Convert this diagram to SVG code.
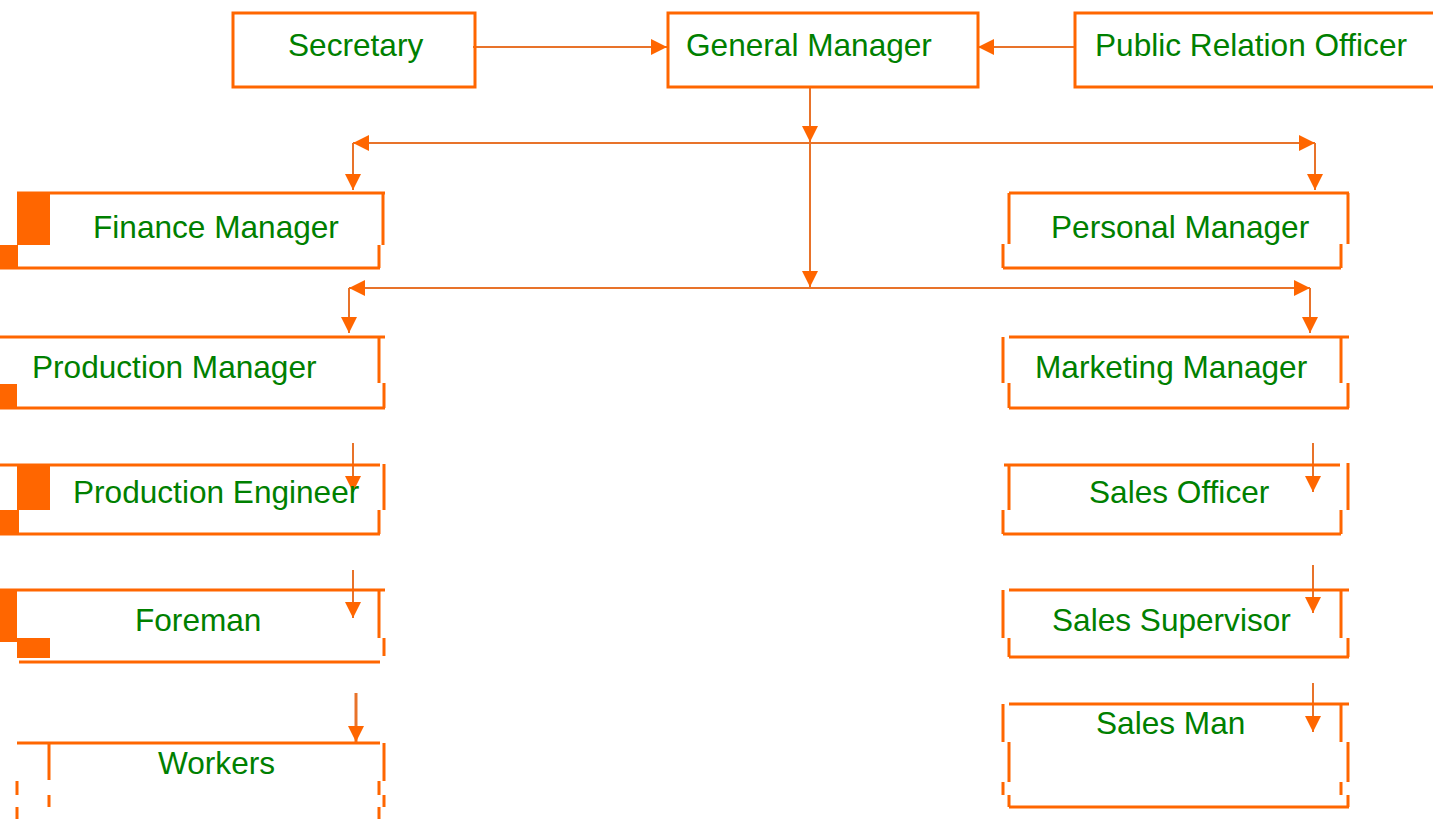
<svg xmlns="http://www.w3.org/2000/svg" width="1433" height="819" viewBox="0 0 1433 819">
<style>
.box{fill:none;stroke:#FF6600;stroke-width:3}
.fill{fill:#FF6600}
.lbl{font-family:"Liberation Sans",Arial,sans-serif;font-size:31.6px;fill:#008000}
.con{fill:none;stroke:#E8732A;stroke-width:2}
.con3{fill:none;stroke:#E8732A;stroke-width:3}
</style>
<defs>
<marker id="ah" markerUnits="userSpaceOnUse" markerWidth="16" markerHeight="16" refX="16" refY="8" orient="auto-start-reverse">
<path d="M0,0 L16,8 L0,16 z" fill="#FF6600"/>
</marker>
</defs>
<rect width="1433" height="819" fill="#FFFFFF"/>

<g id="connectors">
<path class="con" d="M473,47 H667" marker-end="url(#ah)"/>
<path class="con" d="M1075,47 H978" marker-end="url(#ah)"/>
<path class="con" d="M810,87 V142" marker-end="url(#ah)"/>
<path class="con" d="M810,143 V287" marker-end="url(#ah)"/>
<path class="con" d="M353,143 H1315" marker-start="url(#ah)" marker-end="url(#ah)"/>
<path class="con" d="M353,143 V190" marker-end="url(#ah)"/>
<path class="con" d="M1315,143 V190" marker-end="url(#ah)"/>
<path class="con" d="M349,288 H1310" marker-start="url(#ah)" marker-end="url(#ah)"/>
<path class="con" d="M349,288 V333" marker-end="url(#ah)"/>
<path class="con" d="M1310,288 V333" marker-end="url(#ah)"/>
<path class="con" d="M353,443 V492" marker-end="url(#ah)"/>
<path class="con" d="M353,570 V618" marker-end="url(#ah)"/>
<path class="con3" d="M356,693 V742" marker-end="url(#ah)"/>
<path class="con" d="M1313,443 V492" marker-end="url(#ah)"/>
<path class="con" d="M1313,565 V613" marker-end="url(#ah)"/>
<path class="con" d="M1313,683 V732" marker-end="url(#ah)"/>
</g>

<g id="secretary">
<rect class="box" x="233" y="13" width="242" height="74"/>
<text class="lbl" x="288" y="56">Secretary</text>
</g>
<g id="general-manager">
<rect class="box" x="668" y="13" width="310" height="74"/>
<text class="lbl" x="686" y="56">General Manager</text>
</g>
<g id="public-relation-officer">
<rect class="box" x="1075" y="13" width="372" height="74"/>
<text class="lbl" x="1095" y="56">Public Relation Officer</text>
</g>

<g id="finance-manager">
<rect class="fill" x="17" y="193" width="33" height="52"/>
<rect class="fill" x="0" y="245" width="18" height="23"/>
<path class="box" d="M17,193 H385 M383,193 V245 M379,245 V268 M0,268 H380"/>
<text class="lbl" x="93" y="238">Finance Manager</text>
</g>
<g id="production-manager">
<rect class="fill" x="0" y="384" width="17" height="24"/>
<path class="box" d="M0,337 H385 M379,337 V383 M384,383 V408 M0,408 H385"/>
<text class="lbl" x="32" y="378">Production Manager</text>
</g>
<g id="production-engineer">
<rect class="fill" x="17" y="466" width="33" height="44"/>
<rect class="fill" x="0" y="510" width="19" height="24"/>
<path class="box" d="M0,465 H380 M384,464 V510 M379,510 V534 M0,534 H380"/>
<text class="lbl" x="73" y="503">Production Engineer</text>
</g>
<g id="foreman">
<rect class="fill" x="0" y="590" width="17" height="52"/>
<rect class="fill" x="17" y="638" width="33" height="20"/>
<path class="box" d="M0,590 H385 M379,590 V638 M384,638 V656 M19,662 H380"/>
<text class="lbl" x="135" y="631">Foreman</text>
</g>
<g id="workers">
<path class="box" d="M17,743 H380 M49,743 V780 M384,743 V781 M379,781 V795 M384,795 V807 M379,807 V819 M17,781 V795 M17,807 V819 M49,795 V807"/>
<text class="lbl" x="158" y="774">Workers</text>
</g>

<g id="personal-manager">
<path class="box" d="M1009,193 H1349 M1009,193 V244 M1348,193 V244 M1003,244 V268 M1341,244 V268 M1003,268 H1341"/>
<text class="lbl" x="1051" y="238">Personal Manager</text>
</g>
<g id="marketing-manager">
<path class="box" d="M1009,337 H1349 M1003,337 V383 M1341,337 V383 M1009,383 V408 M1348,383 V408 M1009,408 H1349"/>
<text class="lbl" x="1035" y="378">Marketing Manager</text>
</g>
<g id="sales-officer">
<path class="box" d="M1004,465 H1340 M1009,465 V510 M1348,463 V510 M1003,510 V534 M1341,510 V534 M1003,534 H1341"/>
<text class="lbl" x="1089" y="503">Sales Officer</text>
</g>
<g id="sales-supervisor">
<path class="box" d="M1009,590 H1349 M1003,590 V638 M1341,590 V638 M1009,638 V657 M1348,638 V657 M1009,657 H1349"/>
<text class="lbl" x="1052" y="631">Sales Supervisor</text>
</g>
<g id="sales-man">
<path class="box" d="M1009,704 H1349 M1003,704 V742 M1341,704 V742 M1009,742 V782 M1348,742 V782 M1003,782 V795 M1341,782 V795 M1009,795 V807 M1348,795 V807 M1009,807 H1349"/>
<text class="lbl" x="1096" y="734">Sales Man</text>
</g>
</svg>
